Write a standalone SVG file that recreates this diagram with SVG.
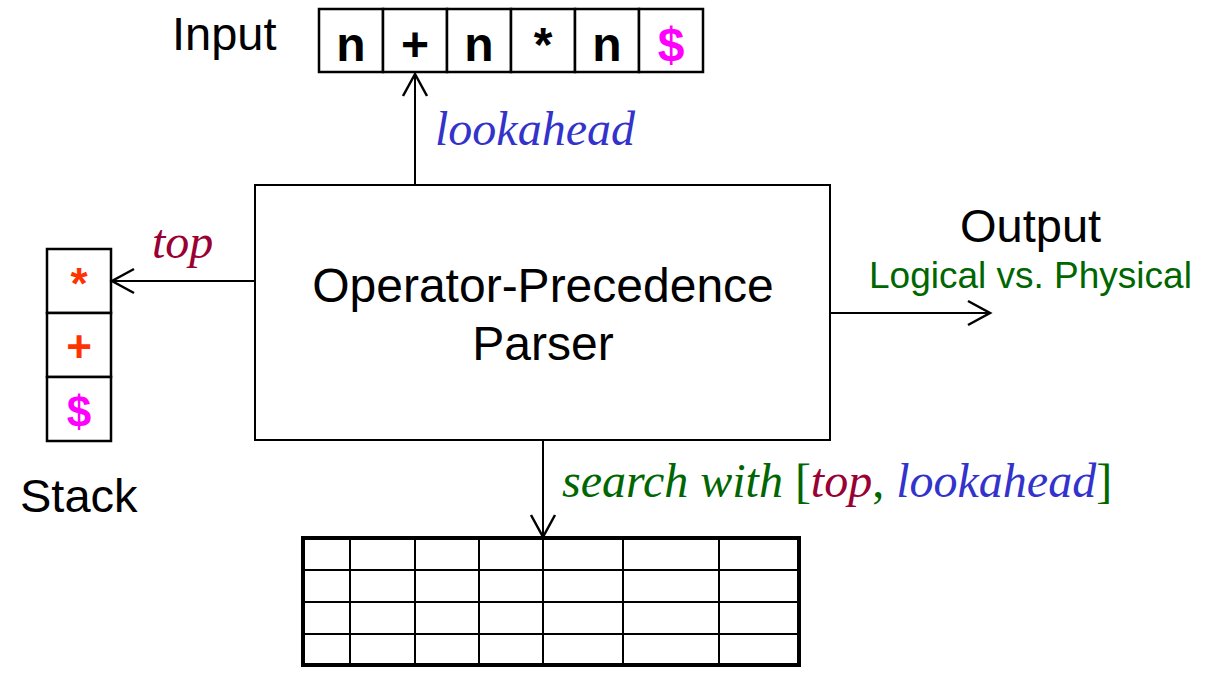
<svg xmlns="http://www.w3.org/2000/svg" width="1224" height="690" viewBox="0 0 1224 690">
<defs>
<style>
.sans{font-family:"Liberation Sans",Arial,sans-serif}
.ser{font-family:"Liberation Serif","Times New Roman",serif;font-style:italic}
.cell{fill:#fff;stroke:#000;stroke-width:2.5}
.line{stroke:#000;stroke-width:2;fill:none}
.big{font-size:47px}
.ch{font-size:48px;font-weight:bold;text-anchor:middle}
.sch{font-size:44px;font-weight:bold;text-anchor:middle}
</style>
<marker id="arr" markerWidth="30" markerHeight="30" refX="24" refY="15" orient="auto" markerUnits="userSpaceOnUse">
<path d="M2,3 L24,15 L2,27" fill="none" stroke="#000" stroke-width="2.5"/>
</marker>
</defs>
<rect width="1224" height="690" fill="#fff"/>

<g id="input">
<text class="sans big" x="172" y="50">Input</text>
<rect class="cell" x="319" y="9" width="64" height="63"/>
<rect class="cell" x="383" y="9" width="64" height="63"/>
<rect class="cell" x="447" y="9" width="64" height="63"/>
<rect class="cell" x="511" y="9" width="64" height="63"/>
<rect class="cell" x="575" y="9" width="64" height="63"/>
<rect class="cell" x="639" y="9" width="64" height="63"/>
<g class="sans ch">
<text x="351" y="61">n</text>
<text x="415" y="61">+</text>
<text x="479" y="61">n</text>
<text x="543" y="61">*</text>
<text x="607" y="61">n</text>
<text x="671" y="61" fill="#FF00FF">$</text>
</g>
</g>

<g id="stack">
<rect class="cell" x="47" y="249" width="64" height="64"/>
<rect class="cell" x="47" y="313" width="64" height="64"/>
<rect class="cell" x="47" y="377" width="64" height="64"/>
<g class="sans sch">
<text x="79" y="299" fill="#FF3300">*</text>
<text x="79" y="362" fill="#FF3300">+</text>
<text x="79" y="427" fill="#FF00FF">$</text>
</g>
<text class="sans big" x="20" y="512">Stack</text>
</g>

<g id="parser">
<rect x="255" y="185" width="575" height="255" fill="#fff" stroke="#000" stroke-width="2"/>
<text class="sans" font-size="48" x="543" y="302" text-anchor="middle">Operator-Precedence</text>
<text class="sans" font-size="48" x="543" y="360" text-anchor="middle">Parser</text>
</g>

<g id="output">
<text class="sans big" x="960" y="242">Output</text>
<text class="sans" x="869" y="288" font-size="37" fill="#006600">Logical vs. Physical</text>
</g>

<g id="table">
<rect x="303" y="538" width="496" height="127" fill="#fff" stroke="#000" stroke-width="4"/>
<g class="line">
<line x1="303" y1="570" x2="799" y2="570"/>
<line x1="303" y1="602" x2="799" y2="602"/>
<line x1="303" y1="634" x2="799" y2="634"/>
<line x1="350" y1="538" x2="350" y2="665"/>
<line x1="415" y1="538" x2="415" y2="665"/>
<line x1="479" y1="538" x2="479" y2="665"/>
<line x1="543" y1="538" x2="543" y2="665"/>
<line x1="623" y1="538" x2="623" y2="665"/>
<line x1="719" y1="538" x2="719" y2="665"/>
</g>
</g>

<g id="connectors">
<line class="line" x1="415" y1="185" x2="415" y2="74" marker-end="url(#arr)"/>
<line class="line" x1="255" y1="281" x2="112" y2="281" marker-end="url(#arr)"/>
<line class="line" x1="830" y1="313" x2="990" y2="313" marker-end="url(#arr)"/>
<line class="line" x1="543" y1="440" x2="543" y2="537" marker-end="url(#arr)"/>
<text class="ser" x="435" y="145" font-size="48" fill="#3333CC">lookahead</text>
<text class="ser" x="152" y="258" font-size="48" fill="#990033">top</text>
<text class="ser" x="562" y="497" font-size="48"><tspan fill="#006600">search with </tspan><tspan fill="#006600" font-style="normal">[</tspan><tspan fill="#990033">top</tspan><tspan fill="#006600" font-style="normal">,</tspan><tspan fill="#3333CC"> lookahead</tspan><tspan fill="#006600" font-style="normal">]</tspan></text>
</g>
</svg>
